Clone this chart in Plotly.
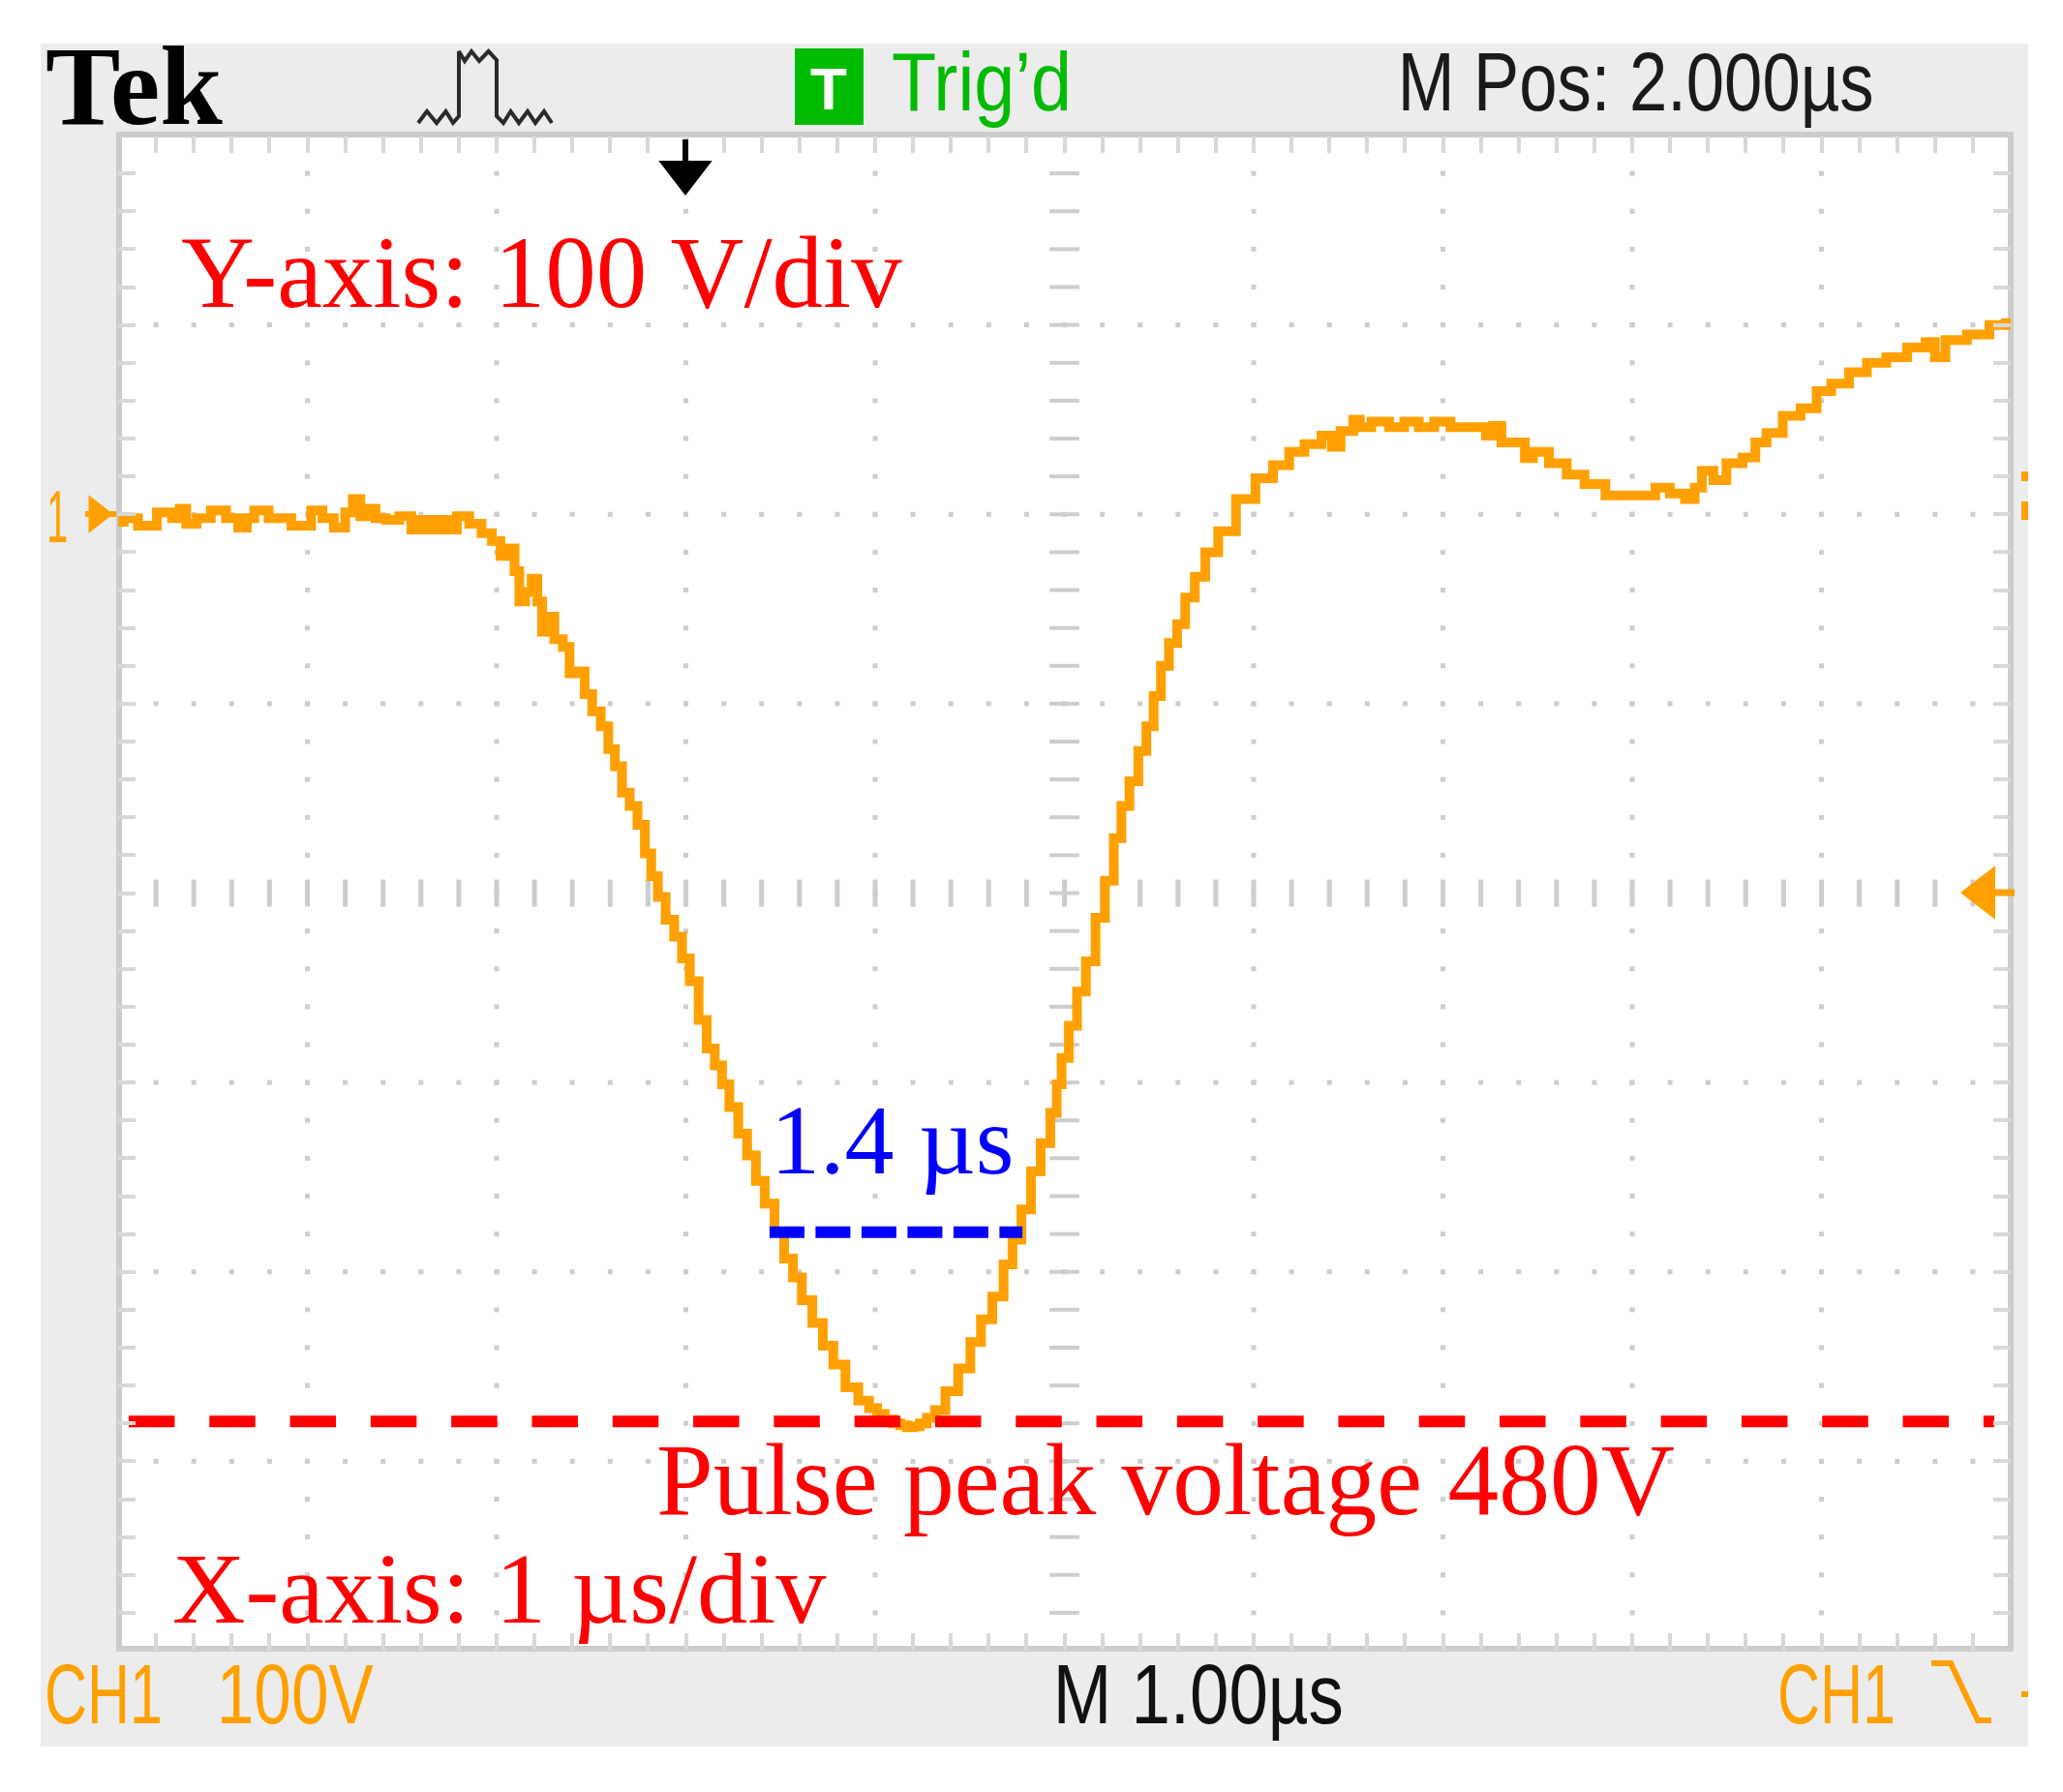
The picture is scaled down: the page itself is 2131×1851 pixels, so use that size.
import json
import plotly.graph_objects as go

# Waveform (time in us relative to the trigger, voltage in V)
time_us = [
 -3.00,-2.94,-2.85,-2.74,-2.69,-2.66,-2.62,-2.55,-2.47,-2.39,-2.34,-2.30,-2.26,-2.15,-2.02,-1.94,-1.90,-1.82,-1.78,-1.74,
 -1.70,-1.66,-1.62,-1.55,-1.48,-1.42,-1.38,-1.33,-1.28,-1.24,-1.18,-1.11,-1.05,-1.00,-0.96,-0.92,-0.89,-0.87,-0.83,-0.80,-0.77,-0.75,-0.72,-0.67,
 -0.63,-0.60,-0.55,-0.52,-0.47,-0.43,-0.39,-0.36,-0.315,-0.279,-0.233,-0.20,-0.166,-0.13,-0.084,-0.04,
 -0.001,0.042,0.093,0.127,0.178,0.204,0.255,0.298,0.349,0.391,0.442,0.494,0.545,0.587,0.638,0.698,0.749,0.809,0.877,0.945,0.99,
 1.03,1.07,1.116,1.15,1.184,1.22,1.252,1.295,1.337,1.405,1.473,1.533,1.585,1.653,1.704,1.747,1.798,1.849,1.90,1.951,1.968,2.002,2.045,2.088,2.139,2.19,
 2.238,2.284,2.318,2.369,2.412,2.454,2.489,2.531,2.574,2.617,2.659,2.719,2.770,2.855,2.958,3.060,3.145,3.230,3.307,3.409,3.417,
 3.501,3.552,3.57,3.674,3.757,3.834,3.911,3.997,4.083,4.202,4.253,4.279,4.339,4.423,4.443,
 4.509,4.611,4.697,4.799,4.918,5.00,5.087,5.157,5.241,5.317,5.343,5.394,5.464,5.532,5.634,5.668,5.752,5.839,5.941,6.008,6.095,
 6.197,6.283,6.402,6.504,6.598,6.60,6.71,6.827,6.948,7.00]
volts = [
 -4,-2,-6,1,-2,3,-5,-2,2,-2,-7,-2,2,-2,-6,2,-2,-7,1,8,
 -1,3,-2,-3,-1,-8,-3,-8,-3,-8,-1,-5,-10,-14,-22,-18,-30,-46,-41,-34,-46,-62,-54,-66,
 -70,-84,-83,-95,-104,-112,-124,-133,-147,-154,-164,-179,-191,-202,-214,-223,
 -234.5,-246.5,-267,-282,-291,-301,-313,-327,-338.5,-352,-364,-379,-393,-403,-415,-427,-439,-449,-461,-468,-472,
 -475,-478,-480,-481,-482,-481.5,-480,-477,-473,-463,-451,-437,-425,-413,-396,-383,-367,-347,-332,-316,-301,-287,-270,-252,-236,-213,
 -193.5,-171,-154,-141,-125,-112,-96,-80,-68,-58,-44,-33,-20,-9,8,19,26,33,37,41.5,35.6,
 44,50,46,49,46,49,46,49,46,46,41.5,46.7,38,38,29.6,
 33,27,21,16,10,10,10,14,11,8,14,23,18,27,30,38,43,52,56,65,69,
 75,80,83,88,91,83,92,95,100,101]

fwhm_t = [0.442, 1.778]
fwhm_v = [-379, -379]
peak_t = [-2.944, 6.913]
peak_v = [-479, -479]

labels_red = ["Y-axis: 100 V/div", "Pulse peak voltage 480V", "X-axis: 1 \u00b5s/div"]
label_blue = "1.4 \u00b5s"

W, H = 2131, 1851
L, R, T, B = 122, 2077, 140, 1705
ORANGE = "#FFA000"
GRID = "#cdcdcd"
SANS = "Liberation Sans, sans-serif"
SERIF = "Liberation Serif, Times New Roman, serif"
px = lambda x: x / W
py = lambda y: 1 - y / H

fig = go.Figure()

# graticule
col_t = [-3 + i for i in range(1, 10) if i != 5]
col_x, col_y = [], []
for t in col_t:
    for k in range(1, 40):
        col_x.append(t); col_y.append(200 - 20 * k)
row_x, row_y = [], []
for v in (100, 0, -100, -300, -400, -500):
    for k in range(1, 50):
        row_x.append(-3 + 0.2 * k); row_y.append(v)
fig.add_trace(go.Scatter(x=col_x + row_x, y=col_y + row_y, mode="markers",
                         marker=dict(symbol="square", size=5, color=GRID), hoverinfo="skip"))
fig.add_trace(go.Scatter(x=[-3 + 0.2 * k for k in range(1, 50)], y=[-200] * 49, mode="markers",
                         marker=dict(symbol="line-ns", size=20, line=dict(width=5, color=GRID)), hoverinfo="skip"))
fig.add_trace(go.Scatter(x=[2] * 39, y=[200 - 20 * k for k in range(1, 40)], mode="markers",
                         marker=dict(symbol="line-ew", size=22, line=dict(width=4, color=GRID)), hoverinfo="skip"))

# waveform and measurement lines
fig.add_trace(go.Scatter(x=time_us, y=volts, mode="lines", line=dict(color=ORANGE, width=10, shape="hvh"), hoverinfo="skip"))
fig.add_trace(go.Scatter(x=peak_t, y=peak_v, mode="lines", line=dict(color="#FF0000", width=12, dash="47.5px,35.8px"), hoverinfo="skip"))
fig.add_trace(go.Scatter(x=fwhm_t, y=fwhm_v, mode="lines", line=dict(color="#0000FF", width=12, dash="36px,11.5px"), hoverinfo="skip"))

# decorations on a full-figure overlay axis, in picture units
def deco(xs, ys, **kw):
    fig.add_trace(go.Scatter(x=xs, y=ys, xaxis="x2", yaxis="y2", cliponaxis=False, hoverinfo="skip", **kw))

icon_x = [432,441,451,460.5,468,474,474,480,487,495,504.6,513,513,520,527.5,536,545,553,562,570]
icon_y = [127,115,127,115,127,120,53,63,53,63,53,62,120,127,115,127,115,127,115,127]
deco(icon_x, icon_y, mode="lines", line=dict(color="#2a2a2a", width=4))
deco([1995, 2015, 2043, 2057], [1718, 1718, 1777, 1777], mode="lines", line=dict(color=ORANGE, width=6))
deco([708, 708], [144, 172], mode="lines", line=dict(color="#000", width=6))
deco([708], [178], mode="markers", marker=dict(symbol="triangle-down", size=48, color="#000"))
deco([88, 120], [531, 531], mode="lines", line=dict(color=ORANGE, width=6))
deco([100], [531], mode="markers", marker=dict(symbol="triangle-right", size=34, color=ORANGE))
deco([2049, 2081], [922, 922], mode="lines", line=dict(color=ORANGE, width=7))
deco([2049], [922], mode="markers", marker=dict(symbol="triangle-left", size=48, color=ORANGE))

def rect(x0, x1, y0, y1, fill, layer="above"):
    return dict(type="rect", xref="paper", yref="paper", x0=px(x0), x1=px(x1), y0=py(y0), y1=py(y1),
                fillcolor=fill, line_width=0, layer=layer)

shapes = [
    rect(42, 2095, 45, 1804, "#ECECEC", "below"),
    rect(L, R, T, B, "#FFFFFF", "below"),
    dict(type="rect", xref="paper", yref="paper", x0=px(123), x1=px(2077), y0=py(139), y1=py(1703),
         line=dict(color="#cccccc", width=6), layer="below"),
    rect(821, 892, 50, 129, "#00BB00"),
    rect(2088, 2095, 487, 497, ORANGE),
    rect(2088, 2095, 518, 537, ORANGE),
    rect(2088, 2095, 1747, 1753, ORANGE),
]

def note(text, x, base, size, color, family, anchor="left"):
    return dict(text=text, xref="paper", yref="paper", x=px(x), y=py(base - 0.34 * size), xanchor=anchor,
                yanchor="middle", showarrow=False, borderpad=0, font=dict(size=size, color=color, family=family))

notes = [
    note("<b>Tek</b>", 46, 128, 116, "#000000", SERIF),
    note("<b>T</b>", 856, 113, 62, "#FFFFFF", SANS, "center"),
    note("Trig\u2019d", 1014, 113, 86, "#00BB00", SANS, "center"),
    note("M Pos: 2.000\u00b5s", 1689, 113, 86, "#1a1a1a", SANS, "center"),
    note(labels_red[0], 186, 317, 105, "#FF0000", SERIF),
    note(labels_red[1], 677, 1564, 105.5, "#FF0000", SERIF),
    note(labels_red[2], 177, 1677, 104.5, "#FF0000", SERIF),
    note(label_blue, 795, 1212, 102, "#0000FF", SERIF),
    note("1", 59, 559, 76, ORANGE, SANS, "center"),
    note("CH1", 107, 1779, 88, ORANGE, SANS, "center"),
    note("100V", 305, 1779, 88, ORANGE, SANS, "center"),
    note("M 1.00\u00b5s", 1238, 1779, 88, "#111111", SANS, "center"),
    note("CH1", 1896.5, 1779, 88, ORANGE, SANS, "center"),
]

# the scope's lettering is much narrower than any installed face: squeeze it to its measured width
squeezed = {"Trig\u2019d": 186, "M Pos: 2.000\u00b5s": 492, "1": 22, "CH1": 122, "100V": 162,
            "M 1.00\u00b5s": 300}
post = "document.body.style.margin='0';document.documentElement.style.overflow='hidden';" \
       "var sq=" + json.dumps(squeezed) + ";" \
       "document.querySelectorAll('.annotation-text').forEach(function(e){" \
       "var k=e.getAttribute('data-unformatted');if(sq[k]){e.setAttribute('textLength',sq[k]);" \
       "e.setAttribute('lengthAdjust','spacingAndGlyphs');}});"

axis_common = dict(showgrid=False, zeroline=False, showticklabels=False, ticks="inside", ticklen=18, tickwidth=4,
                   tickcolor="#d8d8d8", showline=True, linewidth=1, linecolor="rgba(0,0,0,0)", mirror="ticks")
fig.update_layout(
    width=W, height=H, margin=dict(l=0, r=0, t=0, b=0), showlegend=False,
    paper_bgcolor="#FFFFFF", plot_bgcolor="rgba(0,0,0,0)",
    xaxis=dict(domain=[px(L), px(R)], range=[-3, 7], tick0=-3, dtick=0.2, **axis_common),
    yaxis=dict(domain=[py(B), py(T)], range=[-600, 200], tick0=0, dtick=20, **axis_common),
    xaxis2=dict(domain=[0, 1], range=[0, W], visible=False, anchor="y2"),
    yaxis2=dict(domain=[0, 1], range=[H, 0], visible=False, anchor="x2"),
    shapes=shapes, annotations=notes,
)
fig.write_html("out.html", config={"displayModeBar": False}, post_script=post)
